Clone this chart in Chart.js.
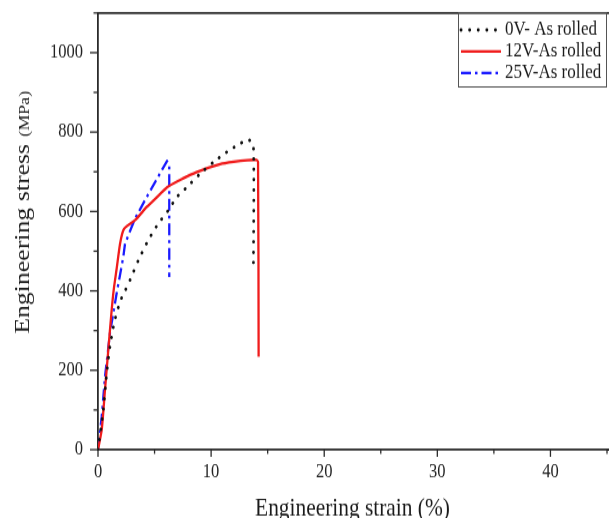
<!DOCTYPE html>
<html><head><meta charset="utf-8">
<script src="https://cdn.jsdelivr.net/npm/chart.js@4.4.1/dist/chart.umd.min.js"></script>
<style>
html,body{margin:0;padding:0;background:#fff;overflow:hidden;width:609px;height:518px}
#wrap{position:absolute;left:0;top:0;width:609px;height:432px;transform:scaleY(1.19907);transform-origin:0 0}
</style></head><body>
<div id="wrap"><canvas id="c"></canvas></div>
<script>
// ---- data ----
const seriesLabels = ['0V- As rolled', '12V-As rolled', '25V-As rolled'];

const strain0V = [0, 0.47, 0.77, 1.06, 1.45, 1.95, 2.39, 2.83, 3.57, 4.45, 5.34, 6.22, 6.96, 7.85, 9.03, 10.2, 11.4, 12.57, 13.3, 13.74, 13.74];
const stress0V = [0, 100, 193, 260, 322, 373, 400, 427, 477, 528, 570, 603, 636, 661, 695, 724, 750, 771, 781, 766, 452];

const strain12V = [0, 0.33, 0.62, 0.91, 1.21, 1.4, 1.65, 1.95, 2.24, 2.54, 3.27, 4.3, 5.0, 6.1, 7.5, 8.7, 10.8, 12.0, 13.2, 14.0, 14.15, 14.2];
const stress12V = [0, 50, 151, 251, 352, 405, 456, 519, 553, 563, 578, 611, 630, 661, 683, 699, 719, 725, 729, 730, 725, 234];

const strain25V = [0, 0.33, 0.62, 1.06, 1.65, 2.24, 2.39, 3.27, 4.3, 6.1, 6.3, 6.3];
const stress25V = [0, 84, 184, 294, 394, 486, 519, 582, 636, 727, 715, 435];

const xMajorTicks = [0, 10, 20, 30, 40];
const yMajorTicks = [0, 200, 400, 600, 800, 1000];

const toPoints = (xs, ys) => xs.map((v, i) => ({x: v, y: ys[i]}));
const FONT = '"Liberation Serif", "Times New Roman", serif';

const decor = {
  id: 'decor',
  afterDraw(chart) {
    const {ctx, chartArea: a, scales: {x, y}} = chart;
    ctx.save();
    ctx.strokeStyle = '#2b2b2b';
    ctx.lineWidth = 1.8;
    ctx.beginPath(); ctx.moveTo(a.left - 0.9, a.top); ctx.lineTo(chart.width, a.top); ctx.stroke();
    ctx.beginPath(); ctx.moveTo(a.right, a.bottom); ctx.lineTo(chart.width, a.bottom); ctx.stroke();
    // tick marks (major long, minor short)
    ctx.lineWidth = 1.3;
    y.ticks.forEach(t => {
      const py = y.getPixelForValue(t.value);
      const len = yMajorTicks.includes(t.value) ? 8 : 4.5;
      ctx.beginPath(); ctx.moveTo(a.left - len, py); ctx.lineTo(a.left, py); ctx.stroke();
    });
    x.ticks.forEach(t => {
      const px = x.getPixelForValue(t.value);
      const len = xMajorTicks.includes(t.value) ? 6 : 3.5;
      ctx.beginPath(); ctx.moveTo(px, a.bottom); ctx.lineTo(px, a.bottom + len); ctx.stroke();
    });
    // legend box
    const lx0 = a.right - 149, lx1 = a.right - 1, ly0 = a.top, ly1 = a.top + 61.7;
    ctx.fillStyle = '#fff';
    ctx.fillRect(lx0, ly0 + 1, lx1 - lx0, ly1 - ly0 - 1);
    ctx.strokeStyle = '#555';
    ctx.lineWidth = 1;
    ctx.strokeRect(lx0 + 0.5, ly0, lx1 - lx0, ly1 - ly0);
    chart.data.datasets.forEach((ds, i) => {
      const cy = a.top + 14.2 + i * 17.9;
      ctx.save();
      ctx.strokeStyle = ds.borderColor;
      ctx.lineWidth = ds.borderWidth;
      ctx.setLineDash(ds.borderDash || []);
      ctx.lineCap = ds.borderCapStyle || 'butt';
      ctx.beginPath(); ctx.moveTo(lx0 + 3, cy); ctx.lineTo(lx0 + 43, cy); ctx.stroke();
      ctx.restore();
      ctx.fillStyle = '#1a1a1a';
      ctx.font = '17px ' + FONT;
      ctx.textBaseline = 'middle';
      ctx.textAlign = 'left';
      ctx.fillText(ds.label, lx0 + 47, cy);
    });
    // y axis title: larger main text, smaller unit
    const main = 'Engineering stress', unit = '(MPa)';
    ctx.font = '21.5px ' + FONT;
    const w1 = ctx.measureText(main).width;
    const gap = 6;
    ctx.font = '15px ' + FONT;
    const w2 = ctx.measureText(unit).width;
    const total = w1 + gap + w2;
    const cy = 177;
    ctx.save();
    ctx.translate(29, cy + total / 2);
    ctx.rotate(-Math.PI / 2);
    ctx.fillStyle = '#1a1a1a';
    ctx.textBaseline = 'alphabetic';
    ctx.textAlign = 'left';
    ctx.font = '21.5px ' + FONT;
    ctx.fillText(main, 0, 0);
    ctx.font = '15px ' + FONT;
    ctx.fillText(unit, w1 + gap, 0);
    ctx.restore();
    ctx.restore();
  }
};

new Chart(document.getElementById('c'), {
  type: 'line',
  data: {
    datasets: [
      {label: seriesLabels[0], data: toPoints(strain0V, stress0V), borderColor: '#111111', borderWidth: 2.8,
       borderDash: [0.1, 8.5], borderCapStyle: 'round'},
      {label: seriesLabels[1], data: toPoints(strain12V, stress12V), borderColor: '#f01c1c', borderWidth: 2.3,
       borderDash: [], borderCapStyle: 'butt'},
      {label: seriesLabels[2], data: toPoints(strain25V, stress25V), borderColor: '#1a1aff', borderWidth: 2.3,
       borderDash: [10, 4, 2.5, 4], borderCapStyle: 'butt', tension: 0}
    ]
  },
  options: {
    responsive: true,
    maintainAspectRatio: false,
    animation: false,
    layout: {padding: {top: 10.8, right: 2, bottom: 0, left: 0}},
    elements: {point: {radius: 0}, line: {tension: 0.2, fill: false, borderJoinStyle: 'round'}},
    plugins: {legend: {display: false}, tooltip: {enabled: false}},
    scales: {
      x: {
        type: 'linear', min: 0, max: 45,
        ticks: {stepSize: 5, autoSkip: false, maxRotation: 0, includeBounds: false, padding: 9,
                color: '#222', font: {family: FONT, size: 16.5},
                callback: v => xMajorTicks.includes(v) ? String(v) : ''},
        grid: {display: false, drawTicks: false},
        border: {display: true, color: '#2b2b2b', width: 1.8},
        title: {display: true, text: 'Engineering strain (%)', color: '#1a1a1a',
                font: {family: FONT, size: 21.4, lineHeight: 1.2}, padding: {top: 0, bottom: -5}},
        afterFit: s => { s.height = 57; s.paddingLeft = 0; s.paddingRight = 0; }
      },
      y: {
        type: 'linear', min: 0, max: 1100,
        ticks: {stepSize: 100, autoSkip: false, padding: 15, color: '#222',
                font: {family: FONT, size: 16.5},
                callback: v => yMajorTicks.includes(v) ? String(v) : ''},
        grid: {display: false, drawTicks: false},
        border: {display: true, color: '#2b2b2b', width: 1.8},
        afterFit: s => { s.width = 98; s.paddingTop = 0; s.paddingBottom = 0; }
      }
    }
  },
  plugins: [decor]
});
</script>
</body></html>
